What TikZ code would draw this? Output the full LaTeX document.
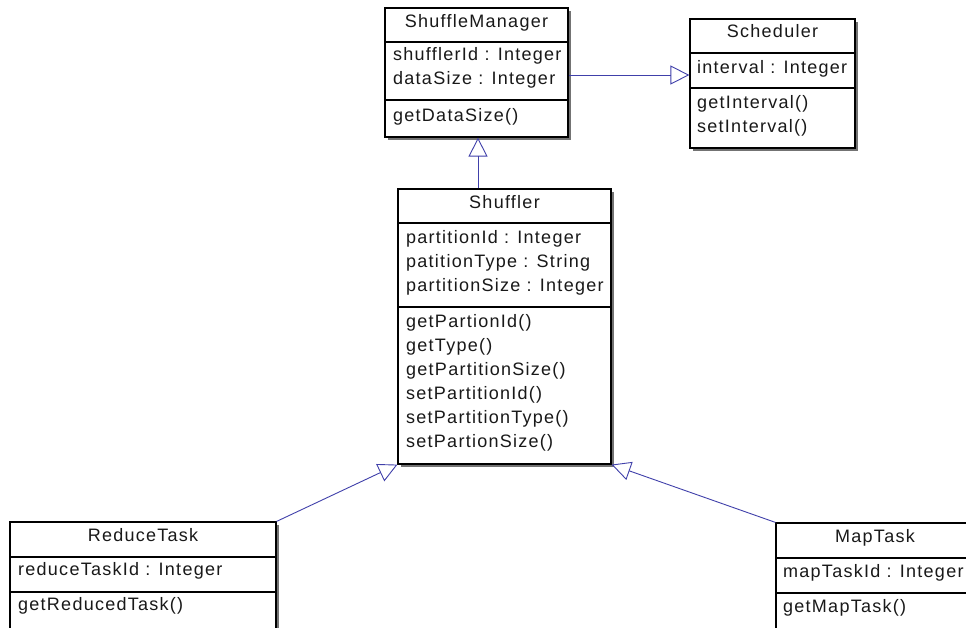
\documentclass[tikz,border=0pt]{standalone}
\usepackage{fontspec}
\setmainfont{Liberation Sans}[LetterSpace=7]
\usetikzlibrary{arrows.meta,shadows}
\definecolor{conn}{RGB}{64,64,170}
\definecolor{txt}{RGB}{25,25,25}
\begin{document}
\begin{tikzpicture}[x=1pt,y=-1pt,
  classbox/.style={draw=black, line width=1.2pt, fill=white, inner sep=0pt,
    drop shadow={shadow xshift=3pt, shadow yshift=-3pt, fill=black!55, opacity=1}},
  divider/.style={draw=black, line width=1.1pt},
  row/.style={anchor=west, inner sep=0pt, text height=13pt, text depth=4pt,
    text=txt, font=\fontsize{18}{22}\selectfont},
  title/.style={row, anchor=center},
  inherit/.style={draw=conn, line width=0.9pt,
    -{Triangle[open, length=19pt, width=19pt, line width=0.9pt]}}]
\clip (0,0) rectangle (966,627);
\fill[white] (0,0) rectangle (966,627);

% boxes
\node[classbox, minimum width=183pt, minimum height=129pt] (sm) at (476.5,72.5) {};
\node[classbox, minimum width=165pt, minimum height=129pt] (sch) at (772.5,83.5) {};
\node[classbox, minimum width=213pt, minimum height=275pt] (sh) at (504.5,326.5) {};
\node[classbox, minimum width=266pt, minimum height=128pt] (rt) at (143,586) {};
\node[classbox, minimum width=198pt, minimum height=128pt] (mt) at (875,587) {};

% dividers
\draw[divider] (sm.west |- 0,42) -- (sm.east |- 0,42);
\draw[divider] (sm.west |- 0,100) -- (sm.east |- 0,100);
\draw[divider] (sch.west |- 0,53) -- (sch.east |- 0,53);
\draw[divider] (sch.west |- 0,88) -- (sch.east |- 0,88);
\draw[divider] (sh.west |- 0,223) -- (sh.east |- 0,223);
\draw[divider] (sh.west |- 0,307) -- (sh.east |- 0,307);
\draw[divider] (rt.west |- 0,557) -- (rt.east |- 0,557);
\draw[divider] (rt.west |- 0,592) -- (rt.east |- 0,592);
\draw[divider] (mt.west |- 0,558) -- (mt.east |- 0,558);
\draw[divider] (mt.west |- 0,593) -- (mt.east |- 0,593);

% ShuffleManager
\node[title] (smt) at (476.5,23) {ShuffleManager};
\node[row] (sma1) at (393,56) {shufflerId : Integer};
\node[row] (sma2) at (393,80) {dataSize : Integer};
\node[row] (smm1) at (393,117) {getDataSize()};

% Scheduler
\node[title] (scht) at (772.5,33) {Scheduler};
\node[row] (scha1) at (697,69) {interval : Integer};
\node[row] (schm1) at (697,104) {getInterval()};
\node[row] (schm2) at (697,128) {setInterval()};

% Shuffler
\node[title] (sht) at (504.5,204) {Shuffler};
\node[row] (sha1) at (406,239) {partitionId : Integer};
\node[row] (sha2) at (406,263) {patitionType : String};
\node[row] (sha3) at (406,287) {partitionSize : Integer};
\node[row] (shm1) at (406,323) {getPartionId()};
\node[row] (shm2) at (406,347) {getType()};
\node[row] (shm3) at (406,371) {getPartitionSize()};
\node[row] (shm4) at (406,395) {setPartitionId()};
\node[row] (shm5) at (406,419) {setPartitionType()};
\node[row] (shm6) at (406,443) {setPartionSize()};

% ReduceTask
\node[title] (rtt) at (143,537) {ReduceTask};
\node[row] (rta1) at (18,571) {reduceTaskId : Integer};
\node[row] (rtm1) at (18,606) {getReducedTask()};

% MapTask
\node[title] (mtt) at (875,538) {MapTask};
\node[row] (mta1) at (783,573) {mapTaskId : Integer};
\node[row] (mtm1) at (783,608) {getMapTask()};

% connectors
\draw[inherit] (sm.east |- 0,75) -- (sch.west |- 0,75);
\draw[inherit] (sh.north -| 478,0) -- (sm.south -| 478,0);
\draw[inherit] (rt.north east) -- (sh.south west);
\draw[inherit] (mt.north west) -- (sh.south east);
\end{tikzpicture}
\end{document}
